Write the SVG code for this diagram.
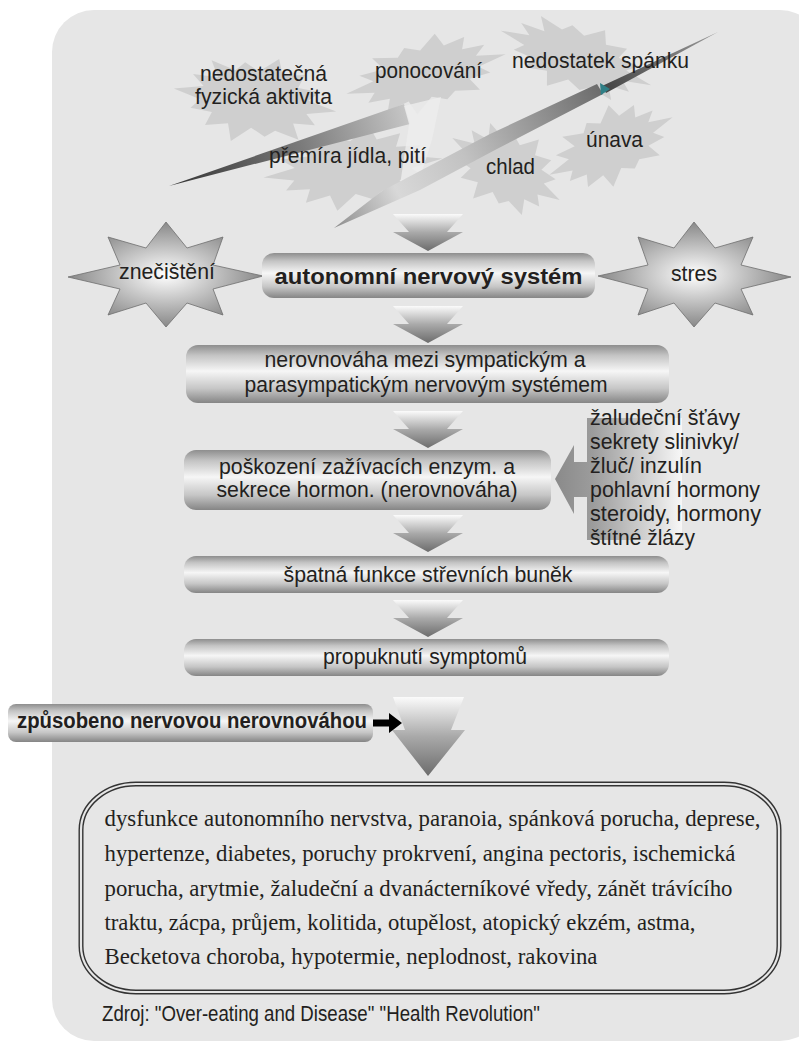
<svg xmlns="http://www.w3.org/2000/svg" xmlns:xlink="http://www.w3.org/1999/xlink" width="799" height="1043" viewBox="0 0 799 1043">
<defs>
<style>
.t{font-family:"Liberation Sans",Arial,sans-serif;font-size:22.5px;fill:#231f20}
.b{font-weight:bold}
.s{font-family:"Liberation Serif","Times New Roman",serif;font-size:23.5px;fill:#231f20}
.box{fill:url(#boxG)}
.burst{fill:#cfcfcf}
.dn{fill:url(#arrG)}
.star8{fill:url(#starG);stroke:#6f6f6f;stroke-width:0.8}
</style>
<linearGradient id="boxG" x1="0" y1="0" x2="0" y2="1">
<stop offset="0" stop-color="#8e8e8e"/>
<stop offset="0.18" stop-color="#c4c4c4"/>
<stop offset="0.45" stop-color="#f6f6f6"/>
<stop offset="0.75" stop-color="#c6c6c6"/>
<stop offset="1" stop-color="#858585"/>
</linearGradient>
<linearGradient id="arrG" x1="0" y1="0" x2="0" y2="1">
<stop offset="0" stop-color="#fbfbfb"/>
<stop offset="0.5" stop-color="#a9a9a9"/>
<stop offset="1" stop-color="#6c6c6c"/>
</linearGradient>
<radialGradient id="starG" cx="0.5" cy="0.5" r="0.55">
<stop offset="0" stop-color="#ffffff"/>
<stop offset="1" stop-color="#7c7c7c"/>
</radialGradient>
<linearGradient id="callG" gradientUnits="userSpaceOnUse" x1="555" y1="0" x2="682" y2="0">
<stop offset="0" stop-color="#8a8a8a"/>
<stop offset="0.3" stop-color="#9c9c9c"/>
<stop offset="1" stop-color="#f7f7f7"/>
</linearGradient>
<linearGradient id="boltA" gradientUnits="userSpaceOnUse" x1="169" y1="186" x2="408" y2="114">
<stop offset="0" stop-color="#333333"/>
<stop offset="0.55" stop-color="#7a7a7a"/>
<stop offset="1" stop-color="#c6c6c6"/>
</linearGradient>
<linearGradient id="boltB" gradientUnits="userSpaceOnUse" x1="330" y1="227" x2="600" y2="88">
<stop offset="0" stop-color="#8a8a8a"/>
<stop offset="0.25" stop-color="#d8d8d8"/>
<stop offset="0.5" stop-color="#c2c2c2"/>
<stop offset="1" stop-color="#6c6c6c"/>
</linearGradient>
<linearGradient id="boltC" gradientUnits="userSpaceOnUse" x1="603" y1="90" x2="718" y2="32">
<stop offset="0" stop-color="#444444"/>
<stop offset="1" stop-color="#9a9a9a"/>
</linearGradient>
<path id="burst" d="M1,0 L0.644,0.147 L0.766,0.369 L0.5,0.399 L0.592,0.743 L0.295,0.613 L0.178,0.78 L0,0.62 L-0.2225,0.975 L-0.286,0.595 L-0.561,0.704 L-0.5,0.399 L-0.766,0.369 L-0.663,0.151 L-1,0 L-0.644,-0.147 L-0.793,-0.382 L-0.485,-0.387 L-0.592,-0.743 L-0.286,-0.595 L-0.182,-0.8 L0,-0.64 L0.2225,-0.975 L0.295,-0.613 L0.561,-0.704 L0.5,-0.399 L0.775,-0.373 L0.644,-0.147 Z"/>
<path id="dnArrow" d="M-35,0 H35 L19,18 H35 L0,37 L-35,18 H-19 Z"/>
</defs>

<rect id="panel" x="52" y="10" width="770" height="1031" rx="42" fill="#e6e6e6"/>

<g id="causes">
<g id="burst-aktivita"><use xlink:href="#burst" class="burst" transform="translate(255,100) rotate(8) scale(82,45)"/></g>
<g id="burst-ponocovani"><use xlink:href="#burst" class="burst" transform="translate(426,74) rotate(-14) scale(82,38)"/></g>
<g id="burst-spanek"><use xlink:href="#burst" class="burst" transform="translate(576,58) rotate(20) scale(80,37)"/></g>
<g id="burst-jidlo"><use xlink:href="#burst" class="burst" transform="translate(353,168) rotate(-6) scale(90,42)"/></g>
<g id="burst-chlad"><use xlink:href="#burst" class="burst" transform="translate(506,169) rotate(30) scale(62,43)"/></g>
<g id="burst-unava"><use xlink:href="#burst" class="burst" transform="translate(611,146) rotate(-25) scale(68,39)"/></g>
</g>

<g id="lightning">
<polygon points="169,186 404,104 410,124" fill="url(#boltA)"/>
<polygon points="404,106 441,97 432,140 420,178 400,185 409,124" fill="#ececec" opacity="0.85"/>
<polygon points="334,228 382,191 490,134 597,84 603,94 495,150 420,190" fill="url(#boltB)"/>
<polygon points="602,86 718,32 606,93" fill="url(#boltC)"/>
<polygon points="600,83 610,89 601,95" fill="#2f7f86"/>
</g>

<g id="cause-labels">
<text class="t" x="200" y="81" font-size="20.5" textLength="127" lengthAdjust="spacingAndGlyphs">nedostatečná</text>
<text class="t" x="195" y="104" font-size="20.5" textLength="137" lengthAdjust="spacingAndGlyphs">fyzická aktivita</text>
<text class="t" x="375" y="78" textLength="107" lengthAdjust="spacingAndGlyphs">ponocování</text>
<text class="t" x="512" y="68" textLength="177" lengthAdjust="spacingAndGlyphs">nedostatek spánku</text>
<text class="t" x="269" y="163" textLength="157" lengthAdjust="spacingAndGlyphs">přemíra jídla, pití</text>
<text class="t" x="486" y="174" textLength="49" lengthAdjust="spacingAndGlyphs">chlad</text>
<text class="t" x="586" y="147" textLength="57" lengthAdjust="spacingAndGlyphs">únava</text>
</g>

<g id="connectors">
<use xlink:href="#dnArrow" class="dn" transform="translate(428,214)"/>
<use xlink:href="#dnArrow" class="dn" transform="translate(428,306)"/>
<use xlink:href="#dnArrow" class="dn" transform="translate(428,411)"/>
<use xlink:href="#dnArrow" class="dn" transform="translate(428,515)"/>
<use xlink:href="#dnArrow" class="dn" transform="translate(428,600)"/>
<path class="dn" d="M393,697 H464 L451,730 H465 L428,776 L392,730 H405 Z"/>
<polygon points="555,479 574,445 574,462 587,462 587,418 682,418 682,540 587,540 587,497 574,497 574,514" fill="url(#callG)"/>
<path d="M373,719.5 H389 V713 L402,723 L389,733 V726.5 H373 Z" fill="#000"/>
</g>

<g id="node-znecisteni">
<polygon class="star8" points="68,277 120,265 108,237 146,248 166,222 187,248 223,237 213,265 263,276 213,289 223,315 187,303 166,327 146,303 108,315 120,289"/>
<text class="t" x="119" y="279" textLength="96" lengthAdjust="spacingAndGlyphs">znečištění</text>
</g>

<g id="node-stres">
<polygon class="star8" points="598,276 648,265 638,237 674,248 694,222 715,248 753,237 741,265 791,277 741,289 753,315 715,303 694,327 674,303 638,315 648,289"/>
<text class="t" x="694" y="281" text-anchor="middle" textLength="46" lengthAdjust="spacingAndGlyphs">stres</text>
</g>

<g id="node-ans">
<rect class="box" x="262" y="253" width="333" height="45" rx="12"/>
<text class="t b" x="428.5" y="284" text-anchor="middle" font-size="25" textLength="308" lengthAdjust="spacingAndGlyphs">autonomní nervový systém</text>
</g>

<g id="node-nerovnovaha">
<rect class="box" x="186" y="345" width="483" height="58" rx="12"/>
<text class="t" x="425" y="367" text-anchor="middle" textLength="321" lengthAdjust="spacingAndGlyphs">nerovnováha mezi sympatickým a</text>
<text class="t" x="426" y="392" text-anchor="middle" textLength="363" lengthAdjust="spacingAndGlyphs">parasympatickým nervovým systémem</text>
</g>

<g id="node-poskozeni">
<rect class="box" x="184" y="450" width="367" height="60" rx="12"/>
<text class="t" x="367" y="474" text-anchor="middle" textLength="296" lengthAdjust="spacingAndGlyphs">poškození zažívacích enzym. a</text>
<text class="t" x="367" y="497" text-anchor="middle" textLength="301" lengthAdjust="spacingAndGlyphs">sekrece hormon. (nerovnováha)</text>
</g>

<g id="node-sekrece">
<text class="t" x="590" y="425" textLength="150" lengthAdjust="spacingAndGlyphs">žaludeční šťávy</text>
<text class="t" x="590" y="449" textLength="149" lengthAdjust="spacingAndGlyphs">sekrety slinivky/</text>
<text class="t" x="590" y="473" textLength="112" lengthAdjust="spacingAndGlyphs">žluč/ inzulín</text>
<text class="t" x="590" y="497" textLength="170" lengthAdjust="spacingAndGlyphs">pohlavní hormony</text>
<text class="t" x="590" y="521" textLength="171" lengthAdjust="spacingAndGlyphs">steroidy, hormony</text>
<text class="t" x="590" y="545" textLength="105" lengthAdjust="spacingAndGlyphs">štítné žlázy</text>
</g>

<g id="node-spatna">
<rect class="box" x="184" y="556" width="485" height="37" rx="12"/>
<text class="t" x="428" y="582" text-anchor="middle" textLength="289" lengthAdjust="spacingAndGlyphs">špatná funkce střevních buněk</text>
</g>

<g id="node-propuknuti">
<rect class="box" x="184" y="639" width="485" height="37" rx="12"/>
<text class="t" x="425" y="664" text-anchor="middle" textLength="204" lengthAdjust="spacingAndGlyphs">propuknutí symptomů</text>
</g>

<g id="node-zpusobeno">
<rect class="box" x="8" y="704" width="365" height="38" rx="8"/>
<text class="t b" x="17" y="728" font-size="22" textLength="350" lengthAdjust="spacingAndGlyphs">způsobeno nervovou nerovnováhou</text>
</g>

<g id="node-nemoci">
<rect x="81" y="784" width="698" height="208" rx="55" ry="46" fill="none" stroke="#333" stroke-width="5"/>
<rect x="81" y="784" width="698" height="208" rx="55" ry="46" fill="none" stroke="#e6e6e6" stroke-width="2.2"/>
<text class="s" x="104.5" y="826" textLength="656" lengthAdjust="spacingAndGlyphs">dysfunkce autonomního nervstva, paranoia, spánková porucha, deprese,</text>
<text class="s" x="104.5" y="861" textLength="631" lengthAdjust="spacingAndGlyphs">hypertenze, diabetes, poruchy prokrvení, angina pectoris, ischemická</text>
<text class="s" x="104.5" y="896" textLength="628" lengthAdjust="spacingAndGlyphs">porucha, arytmie, žaludeční a dvanácterníkové vředy, zánět trávícího</text>
<text class="s" x="104.5" y="930" textLength="591" lengthAdjust="spacingAndGlyphs">traktu, zácpa, průjem, kolitida, otupělost, atopický ekzém, astma,</text>
<text class="s" x="104.5" y="964" textLength="493" lengthAdjust="spacingAndGlyphs">Becketova choroba, hypotermie, neplodnost, rakovina</text>
</g>

<g id="source">
<text class="t" x="102" y="1021" font-size="18.5" textLength="438" lengthAdjust="spacingAndGlyphs">Zdroj: "Over-eating and Disease" "Health Revolution"</text>
</g>
</svg>
